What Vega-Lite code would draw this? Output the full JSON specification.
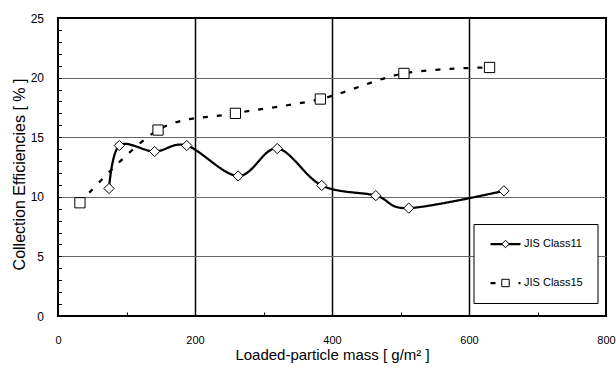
{
  "$schema": "https://vega.github.io/schema/vega-lite/v6.json",
  "width": 548,
  "height": 298,
  "autosize": {"type": "none"},
  "padding": {"left": 58, "top": 18, "right": 10, "bottom": 52},
  "background": "white",
  "config": {"view": {"stroke": "black", "strokeWidth": 2}, "font": "Liberation Sans"},
  "data": {"values": [
    {"series": "JIS Class11", "mass": 74.5, "eff": 10.7},
    {"series": "JIS Class11", "mass": 89.5, "eff": 14.3},
    {"series": "JIS Class11", "mass": 141, "eff": 13.8},
    {"series": "JIS Class11", "mass": 188, "eff": 14.3},
    {"series": "JIS Class11", "mass": 263, "eff": 11.75},
    {"series": "JIS Class11", "mass": 320, "eff": 14.05},
    {"series": "JIS Class11", "mass": 385, "eff": 10.95},
    {"series": "JIS Class11", "mass": 464, "eff": 10.1},
    {"series": "JIS Class11", "mass": 512, "eff": 9.05},
    {"series": "JIS Class11", "mass": 651, "eff": 10.5},
    {"series": "JIS Class15", "mass": 32, "eff": 9.5},
    {"series": "JIS Class15", "mass": 146, "eff": 15.6},
    {"series": "JIS Class15", "mass": 259, "eff": 17.0},
    {"series": "JIS Class15", "mass": 383, "eff": 18.2},
    {"series": "JIS Class15", "mass": 505, "eff": 20.35},
    {"series": "JIS Class15", "mass": 630, "eff": 20.85}
  ]},
  "encoding": {
    "x": {
      "field": "mass", "type": "quantitative",
      "scale": {"domain": [0, 800], "nice": false},
      "axis": {
        "values": [0, 100, 200, 300, 400, 500, 600, 700, 800],
        "domain": false,
        "grid": true, "gridColor": "black", "gridWidth": 1.5,
        "gridOpacity": {"condition": {"test": "datum.value == 200 || datum.value == 400 || datum.value == 600", "value": 1}, "value": 0},
        "ticks": true, "tickSize": -4, "tickColor": "black", "tickWidth": 1,
        "labelExpr": "datum.value % 200 === 0 ? datum.label : ''",
        "labelOverlap": false, "labelFlush": false,
        "labelPadding": 22, "labelFont": "Liberation Sans", "labelFontSize": 11, "labelColor": "black",
        "title": "Loaded-particle mass [ g/m² ]",
        "titleFont": "Liberation Sans", "titleFontSize": 15, "titleFontWeight": "normal", "titleColor": "black",
        "titleBaseline": "alphabetic", "titleY": 43
      }
    },
    "y": {
      "field": "eff", "type": "quantitative",
      "scale": {"domain": [0, 25], "nice": false},
      "axis": {
        "values": [0,1,2,3,4,5,6,7,8,9,10,11,12,13,14,15,16,17,18,19,20,21,22,23,24,25],
        "domain": false,
        "grid": true, "gridColor": "#666666", "gridWidth": 1,
        "gridOpacity": {"condition": {"test": "datum.value == 5 || datum.value == 10 || datum.value == 15 || datum.value == 20", "value": 1}, "value": 0},
        "ticks": true, "tickSize": -3.5, "tickColor": "black", "tickWidth": 1,
        "labelExpr": "datum.value % 5 === 0 ? datum.label : ''",
        "labelOverlap": false, "labelFlush": false,
        "labelPadding": 18, "labelFont": "Liberation Sans", "labelFontSize": 12, "labelColor": "black",
        "title": "Collection Efficiencies [ % ]",
        "titleFont": "Liberation Sans", "titleFontSize": 16, "titleFontWeight": "normal", "titleColor": "black",
        "titleBaseline": "alphabetic", "titleX": -34, "titleY": 156
      }
    }
  },
  "layer": [
    {
      "mark": {"type": "line", "interpolate": "cardinal", "color": "black", "strokeWidth": 2.25},
      "encoding": {
        "strokeDash": {
          "field": "series", "type": "nominal",
          "scale": {"domain": ["JIS Class11", "JIS Class15"], "range": [[1, 0], [5, 9]]},
          "legend": {
            "title": null, "orient": "none", "legendX": 415.5, "legendY": 206,
            "padding": 14, "strokeColor": "black", "fillColor": "white",
            "symbolType": "stroke", "symbolSize": 900, "symbolStrokeWidth": 2.25, "symbolStrokeColor": "black",
            "symbolOffset": 1.5, "clipHeight": 12, "rowPadding": 27,
            "labelFont": "Liberation Sans", "labelFontSize": 11, "labelColor": "black", "labelOffset": 2,
            "zindex": 1
          }
        }
      }
    },
    {
      "mark": {"type": "point", "filled": false, "color": "black", "fill": "white", "fillOpacity": 1, "strokeWidth": 1, "size": 105, "opacity": 1},
      "encoding": {
        "shape": {
          "field": "series", "type": "nominal",
          "scale": {"range": ["diamond", "square"]},
          "legend": {
            "title": null, "orient": "none", "legendX": 415.5, "legendY": 206,
            "padding": 14,
            "symbolSize": 55, "symbolStrokeWidth": 1,
            "symbolOffset": 12, "rowPadding": 27,
            "labelFont": "Liberation Sans", "labelFontSize": 12, "labelExpr": "''",
            "zindex": 2
          }
        }
      }
    }
  ]
}
